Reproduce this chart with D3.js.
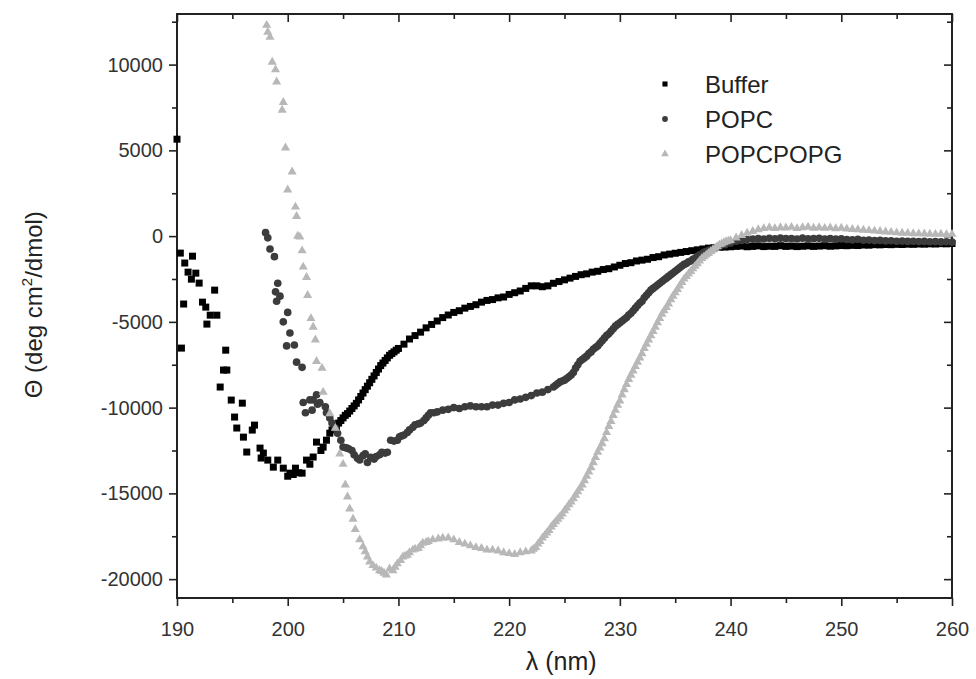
<!DOCTYPE html>
<html>
<head>
<meta charset="utf-8">
<script src="https://cdn.jsdelivr.net/npm/d3@7"></script>
<style>
  body { margin: 0; background: #fff; }
  text { font-family: "Liberation Sans", Arial, sans-serif; }
</style>
</head>
<body>
<div id="viz"></div>
<script>
const width = 976, height = 679;
const margin = {top: 14, right: 24, bottom: 81, left: 177};

// [wavelength nm, ellipticity]
const buffer = [
  [190.0, 5650], [190.3, -990], [190.4, -6530], [190.6, -3960], [190.7, -1570], [191.0, -2100],
  [191.3, -2510], [191.4, -1170], [191.7, -2160], [192.0, -2740], [192.3, -3850], [192.6, -4140],
  [192.7, -5130], [193.0, -4610], [193.4, -3150], [193.6, -4610], [193.9, -8800], [194.2, -7810],
  [194.4, -6650], [194.5, -7810], [194.9, -9560], [195.2, -10550], [195.4, -11190], [195.9, -9740],
  [196.0, -11720], [196.3, -12590], [196.8, -11310], [197.0, -11020], [197.5, -12360], [197.6, -12940],
  [197.8, -12650], [198.2, -13060], [198.7, -13470], [199.1, -13060], [199.6, -13530], [200.0, -14000],
  [200.2, -13820], [200.5, -13900], [200.7, -13530], [201.0, -13800], [201.3, -13820], [201.7, -13060],
  [202.0, -13300], [202.3, -12880], [202.6, -12010], [203.0, -12500], [203.2, -12300], [203.5, -11900],
  [203.8, -11490], [204.0, -11300], [204.2, -11200], [204.4, -11100], [204.6, -10900], [204.8, -10750],
  [205.0, -10600], [205.2, -10450], [205.4, -10350], [205.6, -10200], [205.8, -10050], [206.0, -9900],
  [206.2, -9750], [206.4, -9550], [206.6, -9350], [206.8, -9150], [207.0, -8950], [207.2, -8750],
  [207.4, -8550], [207.6, -8350], [207.8, -8150], [208.0, -7950], [208.2, -7750], [208.4, -7550],
  [208.6, -7400], [208.8, -7250], [209.0, -7100], [209.2, -6950], [209.4, -6850], [209.6, -6750],
  [209.8, -6650], [210.0, -6550], [210.5, -6300], [211.0, -6000], [211.5, -5800], [212.0, -5600],
  [212.5, -5350], [213.0, -5150], [213.5, -4950], [214.0, -4750], [214.5, -4600], [215.0, -4450],
  [215.5, -4350], [216.0, -4200], [216.5, -4100], [217.0, -4000], [217.5, -3850], [218.0, -3750],
  [218.5, -3700], [219.0, -3600], [219.5, -3550], [220.0, -3400], [220.5, -3300], [221.0, -3200],
  [221.5, -3050], [222.0, -2900], [222.5, -2900], [223.0, -2950], [223.5, -2900], [224.0, -2750],
  [224.5, -2650], [225.0, -2550], [225.5, -2450], [226.0, -2350], [226.5, -2250], [227.0, -2200],
  [227.5, -2100], [228.0, -2050], [228.5, -1950], [229.0, -1900], [229.5, -1800], [230.0, -1700],
  [230.5, -1600], [231.0, -1550], [231.5, -1450], [232.0, -1400], [232.5, -1350], [233.0, -1250],
  [233.5, -1200], [234.0, -1100], [234.5, -1050], [235.0, -1000], [235.5, -950], [236.0, -900],
  [236.5, -850], [237.0, -800], [237.5, -750], [238.0, -700], [238.5, -680], [239.0, -650],
  [239.5, -640], [240.0, -620], [240.5, -600], [241.0, -580], [241.5, -620], [242.0, -600],
  [242.5, -570], [243.0, -610], [243.5, -590], [244.0, -600], [244.5, -560], [245.0, -600],
  [245.5, -580], [246.0, -610], [246.5, -590], [247.0, -570], [247.5, -600], [248.0, -580],
  [248.5, -560], [249.0, -590], [249.5, -570], [250.0, -550], [250.5, -560], [251.0, -540],
  [251.5, -550], [252.0, -520], [252.5, -530], [253.0, -500], [253.5, -510], [254.0, -490],
  [254.5, -500], [255.0, -480], [255.5, -490], [256.0, -470], [256.5, -480], [257.0, -460],
  [257.5, -470], [258.0, -450], [258.5, -460], [259.0, -440], [259.5, -450], [260.0, -430]
];

const popc = [
  [198.0, 200], [198.2, -100], [198.4, -750], [198.8, -1200], [198.9, -3250], [199.0, -3800],
  [199.1, -2750], [199.3, -3500], [199.6, -5000], [199.9, -6400], [200.0, -4450], [200.2, -5650],
  [200.6, -6350], [200.8, -7350], [201.3, -7650], [201.4, -9700], [201.6, -10300], [202.0, -9550],
  [202.2, -10150], [202.3, -9550], [202.6, -9250], [202.7, -9800], [202.9, -9700], [203.4, -9950],
  [203.5, -10300], [203.8, -10600], [204.0, -10900], [204.3, -11200], [204.5, -11500], [204.8, -11900],
  [205.0, -12300], [205.3, -12350], [205.5, -12400], [205.8, -12500], [206.0, -12750], [206.3, -12950],
  [206.5, -13050], [206.8, -12800], [207.0, -12700], [207.2, -13200], [207.5, -12900], [207.8, -13000],
  [208.0, -12850], [208.3, -12750], [208.5, -12600], [208.8, -12650], [209.0, -12600], [209.3, -11900],
  [209.6, -11950], [209.9, -11900], [210.1, -11700], [210.3, -11650], [210.5, -11600], [210.8, -11450],
  [211.0, -11300], [211.3, -11150], [211.5, -11000], [211.8, -10950], [212.0, -10900], [212.3, -10750],
  [212.5, -10600], [212.7, -10450], [212.9, -10300], [213.2, -10300], [213.5, -10250], [214.0, -10150],
  [214.5, -10100], [215.0, -10000], [215.5, -10050], [216.0, -9950], [216.5, -9900], [217.0, -9950],
  [217.5, -9950], [218.0, -9950], [218.5, -9850], [219.0, -9850], [219.5, -9750], [220.0, -9700],
  [220.5, -9550], [221.0, -9500], [221.5, -9400], [222.0, -9300], [222.5, -9150], [223.0, -9100],
  [223.5, -8950], [224.0, -8800], [224.2, -8700], [224.4, -8600], [224.6, -8500], [224.8, -8450],
  [225.0, -8400], [225.2, -8300], [225.4, -8200], [225.6, -8100], [225.8, -7950], [226.0, -7700],
  [226.2, -7500], [226.4, -7300], [226.6, -7200], [226.8, -7100], [227.0, -7000], [227.2, -6850],
  [227.4, -6750], [227.6, -6600], [227.8, -6500], [228.0, -6400], [228.2, -6250], [228.4, -6100],
  [228.6, -5950], [228.8, -5800], [229.0, -5700], [229.2, -5550], [229.4, -5400], [229.6, -5250],
  [229.8, -5150], [230.0, -5050], [230.2, -4950], [230.4, -4850], [230.6, -4750], [230.8, -4600],
  [231.0, -4500], [231.2, -4350], [231.4, -4200], [231.6, -4050], [231.8, -3900], [232.0, -3800],
  [232.2, -3600], [232.4, -3450], [232.6, -3300], [232.8, -3150], [233.0, -3050], [233.2, -2950],
  [233.4, -2850], [233.6, -2750], [233.8, -2650], [234.0, -2550], [234.2, -2450], [234.4, -2350],
  [234.6, -2250], [234.8, -2150], [235.0, -2050], [235.2, -1950], [235.4, -1850], [235.6, -1750],
  [235.8, -1650], [236.0, -1600], [236.2, -1500], [236.4, -1450], [236.6, -1350], [236.8, -1300],
  [237.0, -1200], [237.2, -1100], [237.4, -1050], [237.6, -950], [237.8, -900], [238.0, -850],
  [238.2, -800], [238.4, -750], [238.6, -700], [238.8, -650], [239.0, -600], [239.5, -500],
  [240.0, -400], [240.5, -300], [241.0, -250], [241.5, -200], [242.0, -180], [242.5, -150],
  [243.0, -170], [243.5, -130], [244.0, -160], [244.5, -120], [245.0, -150], [245.5, -140],
  [246.0, -170], [246.5, -120], [247.0, -160], [247.5, -150], [248.0, -130], [248.5, -170],
  [249.0, -150], [249.5, -180], [250.0, -160], [250.5, -200], [251.0, -220], [251.5, -190],
  [252.0, -240], [252.5, -230], [253.0, -260], [253.5, -250], [254.0, -280], [254.5, -270],
  [255.0, -300], [255.5, -290], [256.0, -310], [256.5, -300], [257.0, -320], [257.5, -310],
  [258.0, -330], [258.5, -320], [259.0, -340], [259.5, -330], [260.0, -350]
];

const popcpopg = [
  [198.1, 12300], [198.2, 11900], [198.4, 11600], [198.6, 10150], [198.9, 9700], [199.0, 9000],
  [199.5, 7350], [199.6, 7800], [199.8, 5150], [200.0, 2700], [200.4, 3750], [200.7, 1700],
  [200.8, 1150], [200.9, 0], [201.1, -50], [201.3, -850], [201.4, -1800], [201.7, -2400],
  [201.8, -3450], [202.1, -4800], [202.3, -5300], [202.5, -6050], [202.6, -7300], [203.1, -7700],
  [203.2, -9100], [203.8, -10350], [204.3, -11200], [204.7, -12700], [205.0, -13300], [205.2, -14500],
  [205.4, -15200], [205.6, -15900], [205.9, -16500], [206.1, -17100], [206.5, -17700], [206.8, -18100],
  [207.0, -18400], [207.2, -18700], [207.4, -19000], [207.7, -19200], [208.0, -19350], [208.3, -19500],
  [208.5, -19550], [208.7, -19650], [208.9, -19750], [209.2, -19400], [209.5, -19500], [209.7, -19300],
  [209.9, -19100], [210.2, -18900], [210.4, -18700], [210.6, -18650], [210.8, -18600], [211.0, -18450],
  [211.3, -18300], [211.5, -18250], [211.8, -18200], [212.0, -18050], [212.2, -17900], [212.5, -17850],
  [212.7, -17800], [213.1, -17700], [213.6, -17650], [214.0, -17600], [214.5, -17600], [215.0, -17700],
  [215.5, -17850], [216.0, -17950], [216.5, -18050], [217.0, -18150], [217.5, -18200], [218.0, -18300],
  [218.5, -18300], [219.0, -18350], [219.5, -18450], [220.0, -18500], [220.5, -18550], [221.0, -18450],
  [221.5, -18400], [222.0, -18350], [222.2, -18250], [222.4, -18150], [222.6, -17950], [222.8, -17800],
  [223.0, -17600], [223.2, -17450], [223.4, -17300], [223.6, -17150], [223.8, -16950], [224.0, -16800],
  [224.2, -16650], [224.4, -16500], [224.6, -16350], [224.8, -16200], [225.0, -16000], [225.2, -15850],
  [225.4, -15650], [225.6, -15500], [225.8, -15300], [226.0, -15100], [226.2, -14900], [226.4, -14700],
  [226.6, -14500], [226.8, -14250], [227.0, -14000], [227.2, -13750], [227.4, -13500], [227.6, -13200],
  [227.8, -12900], [228.0, -12600], [228.2, -12350], [228.4, -12100], [228.6, -11800], [228.8, -11450],
  [229.0, -11100], [229.2, -10800], [229.4, -10450], [229.6, -10150], [229.8, -9850], [230.0, -9600],
  [230.2, -9250], [230.4, -8950], [230.6, -8650], [230.8, -8350], [231.0, -8100], [231.2, -7850],
  [231.4, -7600], [231.6, -7350], [231.8, -7100], [232.0, -6850], [232.2, -6550], [232.4, -6300],
  [232.6, -6050], [232.8, -5800], [233.0, -5550], [233.2, -5300], [233.4, -5050], [233.6, -4800],
  [233.8, -4550], [234.0, -4350], [234.2, -4150], [234.4, -3950], [234.6, -3700], [234.8, -3500],
  [235.0, -3300], [235.2, -3100], [235.4, -2900], [235.6, -2700], [235.8, -2500], [236.0, -2350],
  [236.2, -2200], [236.4, -2050], [236.6, -1900], [236.8, -1750], [237.0, -1600], [237.2, -1450],
  [237.4, -1300], [237.6, -1200], [237.8, -1100], [238.0, -1000], [238.2, -900], [238.4, -800],
  [238.6, -700], [238.8, -600], [239.0, -500], [239.2, -450], [239.4, -380], [239.6, -320],
  [239.8, -280], [240.0, -250], [240.5, -100], [241.0, 50], [241.5, 175], [242.0, 280],
  [242.5, 380], [243.0, 450], [243.5, 500], [244.0, 450], [244.5, 500], [245.0, 480],
  [245.5, 520], [246.0, 450], [246.5, 500], [247.0, 530], [247.5, 470], [248.0, 500],
  [248.5, 460], [249.0, 490], [249.5, 440], [250.0, 470], [250.5, 420], [251.0, 400],
  [251.5, 380], [252.0, 350], [252.5, 330], [253.0, 300], [253.5, 280], [254.0, 250],
  [254.5, 230], [255.0, 200], [255.5, 180], [256.0, 170], [256.5, 150], [257.0, 140],
  [257.5, 130], [258.0, 120], [258.5, 110], [259.0, 120], [259.5, 100], [260.0, 110]
];

const seriesNames = ["Buffer", "POPC", "POPCPOPG"];
const xMajor = [190, 200, 210, 220, 230, 240, 250, 260];
const xMinor = [195, 205, 215, 225, 235, 245, 255];
const yMajor = [-20000, -15000, -10000, -5000, 0, 5000, 10000];
const yMinor = [-17500, -12500, -7500, -2500, 2500, 7500, 12500];

const svg = d3.select("#viz").append("svg").attr("width", width).attr("height", height);

const x = d3.scaleLinear().domain([190, 260]).range([margin.left, width - margin.right]);
const y = d3.scaleLinear().domain([-21100, 12950]).range([height - margin.bottom, margin.top]);

const styleAxis = g => {
  g.select(".domain").remove();
  g.selectAll(".tick line").attr("stroke", "#222").attr("stroke-width", 1.6);
  g.selectAll(".tick text").attr("fill", "#333").style("font-size", "20px");
};

// frame
svg.append("rect")
  .attr("x", margin.left).attr("y", margin.top)
  .attr("width", width - margin.left - margin.right)
  .attr("height", height - margin.top - margin.bottom)
  .attr("fill", "none").attr("stroke", "#222").attr("stroke-width", 2);

// bottom
svg.append("g").attr("transform", `translate(0,${height - margin.bottom})`)
  .call(d3.axisBottom(x).tickValues(xMajor).tickSize(8).tickPadding(16).tickFormat(d => String(d)))
  .call(styleAxis);
svg.append("g").attr("transform", `translate(0,${height - margin.bottom})`)
  .call(d3.axisBottom(x).tickValues(xMinor).tickSize(5).tickFormat(""))
  .call(styleAxis);
// top (inward)
svg.append("g").attr("transform", `translate(0,${margin.top})`)
  .call(d3.axisTop(x).tickValues(xMajor).tickSize(-8).tickFormat(""))
  .call(styleAxis);
svg.append("g").attr("transform", `translate(0,${margin.top})`)
  .call(d3.axisTop(x).tickValues(xMinor).tickSize(-5).tickFormat(""))
  .call(styleAxis);
// left
svg.append("g").attr("transform", `translate(${margin.left},0)`)
  .call(d3.axisLeft(y).tickValues(yMajor).tickSize(8).tickPadding(6).tickFormat(d => String(d)))
  .call(styleAxis);
svg.append("g").attr("transform", `translate(${margin.left},0)`)
  .call(d3.axisLeft(y).tickValues(yMinor).tickSize(5).tickFormat(""))
  .call(styleAxis);
// right (inward)
svg.append("g").attr("transform", `translate(${width - margin.right},0)`)
  .call(d3.axisRight(y).tickValues(yMajor).tickSize(-8).tickFormat(""))
  .call(styleAxis);
svg.append("g").attr("transform", `translate(${width - margin.right},0)`)
  .call(d3.axisRight(y).tickValues(yMinor).tickSize(-5).tickFormat(""))
  .call(styleAxis);

const sym = [
  d3.symbol().type(d3.symbolSquare).size(49),
  d3.symbol().type(d3.symbolCircle).size(46),
  d3.symbol().type(d3.symbolTriangle).size(36)
];
const colors = ["#000000", "#3c3c3c", "#b8b8b8"];
const allData = [buffer, popc, popcpopg];

allData.forEach((data, i) => {
  svg.append("g").selectAll("path").data(data).enter().append("path")
    .attr("transform", d => `translate(${x(d[0])},${y(d[1])})`)
    .attr("d", sym[i])
    .attr("fill", colors[i]);
});

// legend
const legend = svg.append("g").attr("transform", "translate(665,84)");
seriesNames.forEach((name, i) => {
  legend.append("path")
    .attr("transform", `translate(0,${i * 35})`)
    .attr("d", d3.symbol().type([d3.symbolSquare, d3.symbolCircle, d3.symbolTriangle][i]).size(26)())
    .attr("fill", colors[i]);
  legend.append("text")
    .attr("x", 40).attr("y", i * 35 + 9)
    .attr("fill", "#222")
    .style("font-size", "24px")
    .text(name);
});

// axis titles
svg.append("text")
  .attr("x", x(224.7)).attr("y", 670)
  .attr("text-anchor", "middle")
  .attr("fill", "#222")
  .style("font-size", "25px")
  .text("λ (nm)");

const yt = svg.append("text")
  .attr("transform", `translate(42,${y(-4000)}) rotate(-90)`)
  .attr("text-anchor", "middle")
  .attr("fill", "#222")
  .style("font-size", "24px");
yt.append("tspan").text("Θ (deg cm");
yt.append("tspan").attr("dy", -10).style("font-size", "15px").text("2");
yt.append("tspan").attr("dy", 10).text("/dmol)");
</script>
</body>
</html>
